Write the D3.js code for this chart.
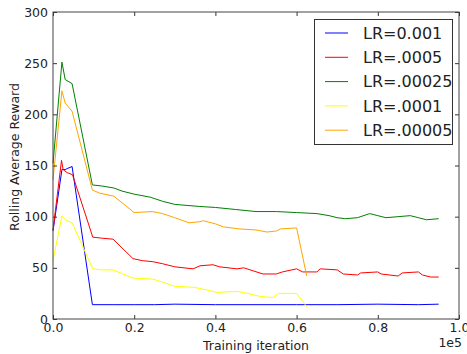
<!DOCTYPE html>
<html>
<head>
<meta charset="utf-8">
<script src="https://cdn.jsdelivr.net/npm/d3@7"></script>
<style>
body { margin: 0; background: #fff; }
text { font-family: "DejaVu Sans", sans-serif; fill: #222; }
</style>
</head>
<body>
<div id="chart"></div>
<script>
// series: [iteration, rolling avg reward]
var lr_001 = [[0,86],[2200,146],[3000,146],[3500,147],[4700,149],[9700,14],[15000,14],[20000,14],[25000,14],[30000,14.5],[40000,14],[50000,14],[60000,14],[70000,14],[80000,14.5],[90000,14],[95000,14.5]];
var lr_0005 = [[0,87],[2100,155],[2500,146],[3500,143],[4800,141],[9800,80],[12000,79],[14800,78],[19700,59],[22000,57],[24600,56],[27000,54],[30000,51],[34500,49],[36200,52],[39400,53],[41000,51],[45300,49],[47000,50],[51700,44],[55000,44],[56500,46],[60000,49],[61500,46],[65000,46],[65800,49],[70000,48],[71500,44],[75000,43],[75800,45],[80000,46],[80800,44],[85000,42],[86000,45],[90000,46],[91000,43],[93000,41],[95000,41]];
var lr_00025 = [[0,152],[2200,251],[3000,234],[4700,230],[9700,131],[12000,130],[15000,128],[17000,125],[20000,122],[24000,119],[27000,115],[30000,112],[33000,111],[36000,110],[40000,109],[45000,107],[50000,105],[55000,105],[60000,104],[65000,103],[68000,101],[70000,99],[72000,98],[75000,99],[78000,103],[80000,101],[82000,99],[85000,100],[88000,101],[90000,99],[92000,97],[95000,98]];
var lr_0001 = [[0,57],[2200,101],[3000,97],[4700,94],[9800,49],[12000,48],[14800,48],[19700,40],[24600,39],[27000,36],[30000,32],[34500,31],[36000,30],[40400,26],[45300,27],[48000,25],[51000,22],[54200,21],[55500,25],[60000,25],[62500,12]];
var lr_00005 = [[0,136],[2200,223],[3000,211],[4700,203],[9700,126],[11500,123],[15000,120],[20000,104],[24500,105],[27000,103],[30000,99],[33500,94],[36000,95],[37000,96],[40000,93],[42000,90],[46000,88],[50000,87],[52700,85],[55000,86],[56000,88],[60000,89],[62500,42]];

var series = [lr_001, lr_0005, lr_00025, lr_0001, lr_00005];
var labels = ["LR=0.001", "LR=.0005", "LR=.00025", "LR=.0001", "LR=.00005"];
var colors = ["blue", "red", "green", "yellow", "orange"];
var xTicks = [0, 20000, 40000, 60000, 80000, 100000];
var yTicks = [0, 50, 100, 150, 200, 250, 300];

var width = 467, height = 354;
var margin = {left: 53, right: 8, top: 12, bottom: 35};

var svg = d3.select("#chart").append("svg")
	.attr("width", width)
	.attr("height", height);

var x = d3.scaleLinear().domain([0, 100000]).range([margin.left, width - margin.right]);
var y = d3.scaleLinear().domain([0, 300]).range([height - margin.bottom, margin.top]);

var line = d3.line()
	.x(function(d){ return x(d[0]); })
	.y(function(d){ return y(d[1]); });

// lines
for(var i = 0; i < series.length; i++){
	svg.append("path")
		.datum(series[i])
		.attr("d", line)
		.attr("fill", "none")
		.attr("stroke", colors[i])
		.attr("stroke-width", 1);
}

// axes, ticks pointing inward on every side
var fmtX = function(d){ return (d / 100000).toFixed(1); };
svg.append("g")
	.attr("transform", "translate(0," + y(0) + ")")
	.call(d3.axisBottom(x).tickValues(xTicks).tickSizeInner(-4).tickSizeOuter(0).tickPadding(4).tickFormat(fmtX));
svg.append("g")
	.attr("transform", "translate(0," + y(300) + ")")
	.call(d3.axisTop(x).tickValues(xTicks).tickSizeInner(-4).tickSizeOuter(0).tickFormat(""));
svg.append("g")
	.attr("transform", "translate(" + x(0) + ",0)")
	.call(d3.axisLeft(y).tickValues(yTicks).tickSizeInner(-4).tickSizeOuter(0).tickPadding(5));
svg.append("g")
	.attr("transform", "translate(" + x(100000) + ",0)")
	.call(d3.axisRight(y).tickValues(yTicks).tickSizeInner(-4).tickSizeOuter(0).tickFormat(""));

svg.selectAll(".domain").remove();
svg.selectAll(".tick line").attr("stroke", "#333");
svg.selectAll(".tick text").style("font-size", "12.5px").style("font-family", "DejaVu Sans").attr("fill", "#222");

// frame
svg.append("rect")
	.attr("x", x(0)).attr("y", y(300))
	.attr("width", x(100000) - x(0)).attr("height", y(0) - y(300))
	.attr("fill", "none").attr("stroke", "#444").attr("stroke-width", 1);

// labels
svg.append("text")
	.attr("x", 256).attr("y", 350)
	.attr("text-anchor", "middle").style("font-size", "12.5px")
	.text("Training iteration");
svg.append("text")
	.attr("x", 462).attr("y", 347)
	.attr("text-anchor", "end").style("font-size", "12.5px")
	.text("1e5");
svg.append("text")
	.attr("transform", "translate(18.5,157) rotate(-90)")
	.attr("text-anchor", "middle").style("font-size", "12.5px")
	.text("Rolling Average Reward");

// legend
var lg = svg.append("g");
lg.append("rect")
	.attr("x", 314.5).attr("y", 19.5).attr("width", 138).attr("height", 125)
	.attr("fill", "#fff").attr("stroke", "#333").attr("stroke-width", 1);
for(var j = 0; j < labels.length; j++){
	var ly = 33 + j * 24.3;
	lg.append("line")
		.attr("x1", 325).attr("x2", 348).attr("y1", ly).attr("y2", ly)
		.attr("stroke", colors[j]).attr("stroke-width", 1);
	lg.append("text")
		.attr("x", 363).attr("y", ly).attr("dy", "0.35em")
		.style("font-size", "16px")
		.text(labels[j]);
}
</script>
</body>
</html>
